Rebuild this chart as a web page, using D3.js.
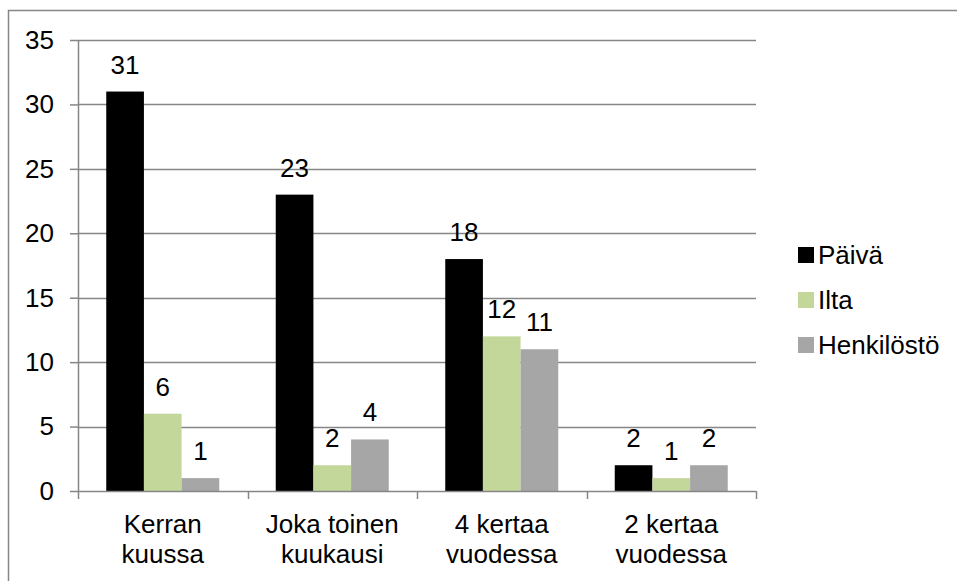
<!DOCTYPE html>
<html>
<head>
<meta charset="utf-8">
<script src="https://cdn.jsdelivr.net/npm/d3@7"></script>
<style>
  html, body { margin: 0; padding: 0; background: #fff; }
  svg { display: block; font-family: "Liberation Sans", Arial, sans-serif; }
</style>
</head>
<body>
<svg id="chart" width="957" height="581"></svg>
<script>
// Visit frequency by group
const categories = [["Kerran", "kuussa"], ["Joka toinen", "kuukausi"], ["4 kertaa", "vuodessa"], ["2 kertaa", "vuodessa"]];
const seriesNames = ["Päivä", "Ilta", "Henkilöstö"];
const paiva = [31, 23, 18, 2];
const ilta = [6, 2, 12, 1];
const henkilosto = [1, 4, 11, 2];
const yTicks = [0, 5, 10, 15, 20, 25, 30, 35];
const colors = ["#000000", "#C4D79B", "#A6A6A6"];

const seriesValues = [paiva, ilta, henkilosto];
const svg = d3.select("#chart");
const gridColor = "#868686";
const fontSize = 26;

const plot = { left: 78, right: 756, top: 40, bottom: 491 };

// Outer chart frame
svg.append("rect")
  .attr("x", 8.5).attr("y", 10.5)
  .attr("width", 1200).attr("height", 1200)
  .attr("fill", "none").attr("stroke", gridColor).attr("stroke-width", 1.5);

const y = d3.scaleLinear().domain([0, 35]).range([plot.bottom, plot.top]);
const catIdx = categories.map((c, i) => i);
const x0 = d3.scaleBand().domain(catIdx).range([plot.left, plot.right]).padding(0);
const x1 = d3.scaleBand().domain(seriesNames).range([0, x0.bandwidth()])
  .paddingInner(0).paddingOuter(0.75);

// Horizontal gridlines
svg.append("g").selectAll("line").data(yTicks.filter(t => t > 0)).join("line")
  .attr("x1", plot.left).attr("x2", plot.right)
  .attr("y1", d => Math.round(y(d)) + 0.5).attr("y2", d => Math.round(y(d)) + 0.5)
  .attr("stroke", gridColor).attr("stroke-width", 1.5);

// Y axis
const yAxis = d3.axisLeft(y).tickValues(yTicks).tickSize(8).tickPadding(16)
  .tickFormat(d3.format("d"));
const gy = svg.append("g").attr("transform", `translate(${plot.left},0)`).call(yAxis);
gy.select(".domain").remove();
gy.selectAll(".tick line").attr("stroke", gridColor).attr("stroke-width", 1.5);
gy.selectAll(".tick text").attr("font-size", fontSize).attr("fill", "#000")
  .attr("font-family", "Liberation Sans, Arial, sans-serif");
svg.append("line")
  .attr("x1", plot.left + 0.5).attr("x2", plot.left + 0.5)
  .attr("y1", plot.top).attr("y2", plot.bottom)
  .attr("stroke", gridColor).attr("stroke-width", 1.5);

// Bars
const groups = svg.append("g").selectAll("g").data(catIdx).join("g")
  .attr("transform", i => `translate(${x0(i)},0)`);
groups.selectAll("rect")
  .data(i => seriesNames.map((s, k) => ({ s, k, v: seriesValues[k][i] })))
  .join("rect")
  .attr("x", d => x1(d.s))
  .attr("width", x1.bandwidth())
  .attr("y", d => y(d.v))
  .attr("height", d => y(0) - y(d.v))
  .attr("fill", d => colors[d.k]);

// Data labels
groups.selectAll("text.val")
  .data(i => seriesNames.map((s, k) => ({ s, k, v: seriesValues[k][i] })))
  .join("text")
  .attr("class", "val")
  .attr("x", d => x1(d.s) + x1.bandwidth() / 2)
  .attr("y", d => y(d.v) - 18)
  .attr("text-anchor", "middle")
  .attr("font-size", fontSize)
  .text(d => d.v);

// X axis line and category boundary ticks
svg.append("line")
  .attr("x1", plot.left).attr("x2", plot.right)
  .attr("y1", plot.bottom + 0.5).attr("y2", plot.bottom + 0.5)
  .attr("stroke", gridColor).attr("stroke-width", 1.5);
const bounds = catIdx.map(i => x0(i)).concat([plot.right]);
svg.append("g").selectAll("line").data(bounds).join("line")
  .attr("x1", d => Math.round(d) + 0.5).attr("x2", d => Math.round(d) + 0.5)
  .attr("y1", plot.bottom).attr("y2", plot.bottom + 8)
  .attr("stroke", gridColor).attr("stroke-width", 1.5);

// Category labels
svg.append("g").selectAll("text").data(catIdx).join("text")
  .attr("text-anchor", "middle")
  .attr("font-size", fontSize)
  .each(function (i) {
    const t = d3.select(this);
    const cx = x0(i) + x0.bandwidth() / 2;
    categories[i].forEach((line, j) => {
      t.append("tspan").attr("x", cx).attr("y", 533 + j * 29.5).text(line);
    });
  });

// Legend
const legend = svg.append("g").selectAll("g").data(seriesNames).join("g")
  .attr("transform", (d, k) => `translate(798, ${255 + k * 45})`);
legend.append("rect")
  .attr("x", 0).attr("y", -8).attr("width", 16).attr("height", 16)
  .attr("fill", (d, k) => colors[k]);
legend.append("text")
  .attr("x", 20).attr("y", 9)
  .attr("font-size", fontSize)
  .text(d => d);
</script>
</body>
</html>
